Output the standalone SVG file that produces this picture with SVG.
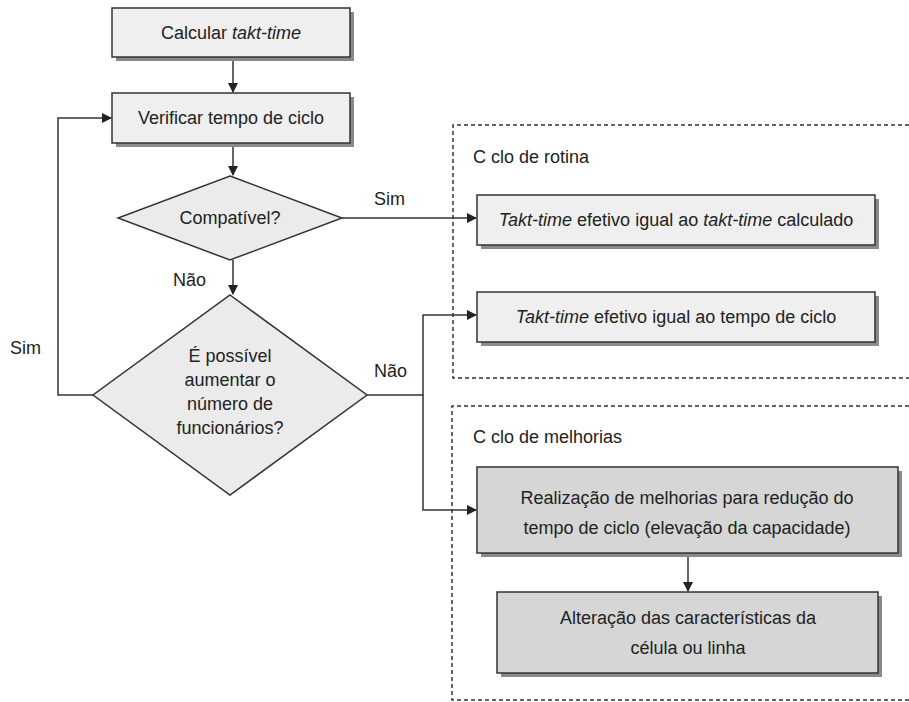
<svg xmlns="http://www.w3.org/2000/svg" width="909" height="702" viewBox="0 0 909 702">
<defs>
<marker id="ah" markerWidth="10" markerHeight="10" refX="9" refY="5" orient="auto" markerUnits="userSpaceOnUse">
<path d="M0,0 L10,5 L0,10 Z" fill="#222"/>
</marker>
<style>
text{font-family:"Liberation Sans",Arial,sans-serif;font-size:18px;fill:#222}
.box{fill:#efefef;stroke:#333;stroke-width:1.5}
.dark{fill:#d6d6d6;stroke:#333;stroke-width:1.5}
.sh{fill:#8a8a8a}
.dia{fill:#ebebeb;stroke:#333;stroke-width:1.5}
.con{fill:none;stroke:#333;stroke-width:1.5}
.dash{fill:none;stroke:#333;stroke-width:1.5;stroke-dasharray:4,3}
.m{text-anchor:middle}
</style>
</defs>
<rect width="909" height="702" fill="#fff"/>
<g id="zones">
<path class="dash" d="M909,125 H453 V378 H909"/>
<path class="dash" d="M909,406 H452 V700 H909"/>
<text x="473" y="163">C clo de rotina</text>
<text x="473" y="443">C clo de melhorias</text>
</g>
<g id="connectors">
<line class="con" x1="233" y1="57" x2="233" y2="92" marker-end="url(#ah)"/>
<line class="con" x1="233" y1="143" x2="233" y2="175" marker-end="url(#ah)"/>
<line class="con" x1="233" y1="260" x2="233" y2="294" marker-end="url(#ah)"/>
<line class="con" x1="342" y1="218" x2="476" y2="218" marker-end="url(#ah)"/>
<polyline class="con" points="93,395 58,395 58,118 111,118" marker-end="url(#ah)"/>
<polyline class="con" points="367,395 423,395 423,315 476,315" marker-end="url(#ah)"/>
<polyline class="con" points="423,395 423,510 476,510" marker-end="url(#ah)"/>
<line class="con" x1="688" y1="553" x2="688" y2="591" marker-end="url(#ah)"/>
<text x="374" y="205">Sim</text>
<text x="173" y="286">Não</text>
<text x="374" y="377">Não</text>
<text x="10" y="354">Sim</text>
</g>
<g id="n1">
<rect class="sh" x="116" y="12" width="238" height="49"/>
<rect class="box" x="112" y="8" width="238" height="49"/>
<text class="m" x="231" y="39">Calcular <tspan font-style="italic">takt-time</tspan></text>
</g>
<g id="n2">
<rect class="sh" x="116" y="97" width="238" height="50"/>
<rect class="box" x="112" y="93" width="238" height="50"/>
<text class="m" x="231" y="124">Verificar tempo de ciclo</text>
</g>
<g id="n3">
<polygon class="dia" points="230,176 342,218 230,260 118,218"/>
<text class="m" x="230" y="224">Compatível?</text>
</g>
<g id="n4">
<polygon class="dia" points="230,295 367,395 230,495 93,395"/>
<text class="m" x="230" y="362">É possível</text>
<text class="m" x="230" y="386">aumentar o</text>
<text class="m" x="230" y="410">número de</text>
<text class="m" x="230" y="434">funcionários?</text>
</g>
<g id="n5">
<rect class="sh" x="481" y="199" width="398" height="50"/>
<rect class="box" x="477" y="195" width="398" height="50"/>
<text class="m" x="676" y="226"><tspan font-style="italic">Takt-time</tspan> efetivo igual ao <tspan font-style="italic">takt-time</tspan> calculado</text>
</g>
<g id="n6">
<rect class="sh" x="481" y="296" width="398" height="50"/>
<rect class="box" x="477" y="292" width="398" height="50"/>
<text class="m" x="676" y="323"><tspan font-style="italic">Takt-time</tspan> efetivo igual ao tempo de ciclo</text>
</g>
<g id="n7">
<rect class="sh" x="481" y="471" width="421" height="86"/>
<rect class="dark" x="477" y="467" width="421" height="86"/>
<text class="m" x="687" y="504">Realização de melhorias para redução do</text>
<text class="m" x="687" y="534">tempo de ciclo (elevação da capacidade)</text>
</g>
<g id="n8">
<rect class="sh" x="501" y="596" width="381" height="81"/>
<rect class="dark" x="497" y="592" width="381" height="81"/>
<text class="m" x="688" y="624">Alteração das características da</text>
<text class="m" x="688" y="654">célula ou linha</text>
</g>
</svg>
